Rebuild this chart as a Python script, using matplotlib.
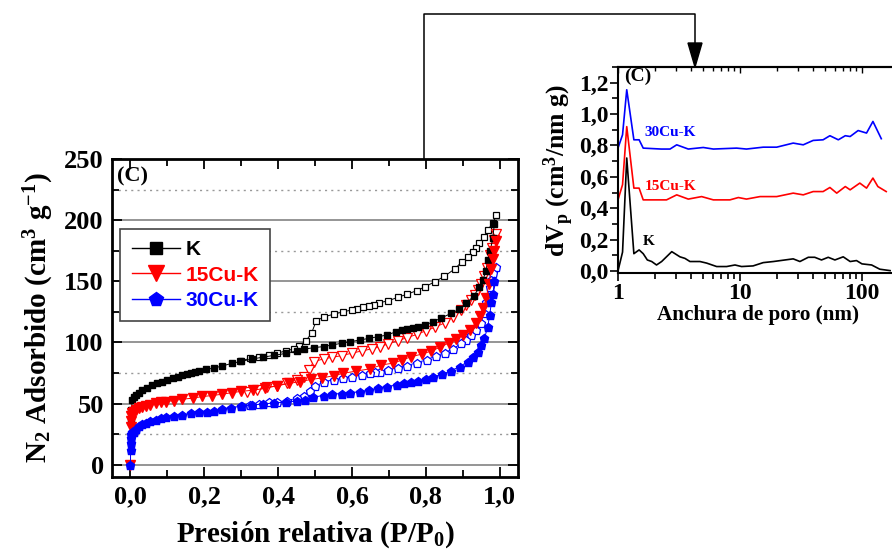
import matplotlib
matplotlib.use("Agg")
import matplotlib.pyplot as plt
from matplotlib.lines import Line2D
from matplotlib.patches import Polygon
from matplotlib.ticker import MultipleLocator, FuncFormatter, LogLocator, NullFormatter

plt.rcParams['font.family'] = ['Liberation Serif', 'DejaVu Serif']
plt.rcParams['font.weight'] = 'bold'
plt.rcParams['axes.labelweight'] = 'bold'
plt.rcParams['mathtext.fontset'] = 'custom'
plt.rcParams['mathtext.rm'] = 'Liberation Serif:bold'
plt.rcParams['mathtext.it'] = 'Liberation Serif:bold'
plt.rcParams['mathtext.bf'] = 'Liberation Serif:bold'

# --- isotherms (P/P0, cm3/g) ---
k_ads_p = [0.0005, 0.002, 0.005, 0.009, 0.014, 0.022, 0.032, 0.045, 0.059, 0.072, 0.086, 0.10,
           0.114, 0.128, 0.14, 0.152, 0.163, 0.175, 0.186, 0.205, 0.226, 0.249, 0.276, 0.30,
           0.33, 0.36, 0.39, 0.42, 0.45, 0.47, 0.497, 0.523, 0.547, 0.572, 0.596, 0.622, 0.647,
           0.671, 0.694, 0.72, 0.735, 0.75, 0.765, 0.78, 0.797, 0.82, 0.842, 0.869, 0.89, 0.91,
           0.93, 0.945, 0.955, 0.962, 0.968, 0.975, 0.981, 0.986]
k_ads_v = [35, 45, 53, 55.5, 57, 59, 61, 63, 65, 66.5, 68, 69.5, 71, 72, 73, 74, 74.8, 76, 77,
           78, 79, 80.8, 83, 84.5, 86.5, 88, 89.5, 91, 93, 94.4, 95.8, 96.6, 98, 99.3, 100.7,
           102, 103.4, 104.7, 106, 108.8, 110, 111, 112, 113, 114, 117, 120, 123.8, 127, 132,
           138, 145, 151, 158, 167, 175, 185, 197]
k_des_p = [0.991, 0.982, 0.968, 0.959, 0.944, 0.937, 0.928, 0.914, 0.898, 0.878, 0.85, 0.824,
           0.799, 0.775, 0.75, 0.725, 0.698, 0.674, 0.659, 0.647, 0.631, 0.613, 0.599, 0.575,
           0.55, 0.524, 0.503, 0.491, 0.475, 0.456, 0.442, 0.42, 0.397, 0.375, 0.348, 0.325, 0.298]
k_des_v = [204, 198, 192, 186, 181, 177.6, 174, 169.5, 166, 160, 154, 149.6, 145.6, 142.3,
           139.5, 137, 134, 132.5, 131, 130, 129, 127, 126.5, 125, 123, 121, 117.5, 108, 101,
           97.4, 94.7, 93, 91.2, 89.8, 88.4, 87, 84.9]

cu15_ads_p = [0.0, 0.0002, 0.0006, 0.001, 0.004, 0.01, 0.016, 0.023, 0.032, 0.041, 0.054, 0.068,
              0.082, 0.095, 0.118, 0.14, 0.168, 0.195, 0.222, 0.249, 0.276, 0.30, 0.333, 0.365,
              0.396, 0.43, 0.46, 0.49, 0.52, 0.55, 0.577, 0.61, 0.65, 0.68, 0.71, 0.735, 0.761,
              0.79, 0.815, 0.838, 0.862, 0.883, 0.90, 0.919, 0.935, 0.946, 0.955, 0.964, 0.971,
              0.978, 0.982, 0.986, 0.99]
cu15_ads_v = [0, 31, 36, 40, 42, 43.5, 45, 46, 47, 48, 49.2, 50.3, 51, 51.7, 52.5, 53.6, 54.4,
              55.8, 56.6, 57.7, 59, 60, 61, 62.5, 64.5, 66.5, 68, 69.8, 71, 72.8, 74.8, 76.5,
              78.5, 81.6, 83, 85.5, 88.4, 90.5, 93, 96, 99.5, 103, 106, 110, 116, 122, 128, 136,
              148, 160, 168, 175, 183]
cu15_des_p = [0.989, 0.985, 0.98, 0.973, 0.966, 0.958, 0.95, 0.941, 0.932, 0.923, 0.91, 0.896,
              0.874, 0.851, 0.826, 0.80, 0.775, 0.75, 0.725, 0.698, 0.676, 0.653, 0.626, 0.599,
              0.572, 0.547, 0.523, 0.496, 0.483, 0.469, 0.451, 0.424, 0.397, 0.37, 0.343, 0.316]
cu15_des_v = [189, 183.7, 177, 171.4, 160.5, 154, 148, 143, 138.8, 134.7, 130.6, 126.5, 121,
              116, 112.5, 109.5, 106.5, 104, 101.5, 98.8, 96.6, 94.7, 93, 91.2, 89.2, 87.9,
              86.5, 84.3, 77.6, 72, 69.4, 66.7, 64.5, 63.4, 61.2, 59.8]

cu30_ads_p = [0.0, 0.0003, 0.0006, 0.001, 0.002, 0.004, 0.01, 0.016, 0.023, 0.032, 0.041, 0.054,
              0.068, 0.082, 0.095, 0.118, 0.14, 0.163, 0.186, 0.208, 0.226, 0.249, 0.271, 0.30,
              0.33, 0.36, 0.39, 0.42, 0.45, 0.473, 0.495, 0.523, 0.547, 0.572, 0.596, 0.622,
              0.647, 0.671, 0.695, 0.721, 0.74, 0.76, 0.78, 0.80, 0.82, 0.845, 0.869, 0.892,
              0.914, 0.928, 0.941, 0.95, 0.959, 0.968, 0.973, 0.978, 0.982, 0.986]
cu30_ads_v = [0, 12, 18, 22, 25, 26.5, 27, 29.5, 31.3, 33, 34, 35.5, 36.7, 38, 38.9, 40, 40.8,
              42.2, 43, 43.5, 44.3, 45.4, 46.8, 47.8, 48.8, 49.7, 50.5, 51.2, 52, 53, 55.3,
              56.6, 57.7, 58.2, 58.8, 59.8, 61.2, 62.6, 63.9, 65.3, 66.5, 67.5, 68.7, 70, 72,
              74, 77, 80.3, 84.3, 88.4, 92.5, 98, 103.4, 113, 122.4, 133, 140, 150]
cu30_des_p = [0.989, 0.982, 0.977, 0.973, 0.964, 0.957, 0.95, 0.937, 0.923, 0.91, 0.896, 0.874,
              0.851, 0.827, 0.802, 0.775, 0.75, 0.725, 0.698, 0.676, 0.662, 0.649, 0.626, 0.599,
              0.575, 0.55, 0.525, 0.50, 0.486, 0.47, 0.451, 0.424, 0.397, 0.375, 0.348, 0.325,
              0.303]
cu30_des_v = [162, 156.5, 151, 145.6, 133.3, 124, 115.7, 110, 106, 102, 99.3, 94.7, 91.7, 89,
              85.7, 83.5, 81, 79.4, 77.6, 76.2, 75.5, 74.8, 73.5, 72, 70.8, 69.4, 68, 64, 60.7,
              56.5, 54.4, 52.5, 51.2, 50.9, 49.8, 49, 48.2]

# --- pore size distribution (nm, cm3/nm g) ---
psd_k_w = [1.0, 1.09, 1.18, 1.35, 1.49, 1.61, 1.74, 1.89, 2.07, 2.28, 2.76, 3.22, 3.54, 3.89,
           4.7, 5.33, 6.44, 7.77, 9.1, 10.3, 12.8, 15.5, 18.8, 27.3, 31, 36.3, 41, 46.6, 52.9,
           60, 70.2, 80, 90.2, 100, 120, 140, 170]
psd_k_v = [0.0, 0.12, 0.72, 0.11, 0.134, 0.11, 0.07, 0.06, 0.038, 0.06, 0.123, 0.09, 0.08,
           0.06, 0.06, 0.05, 0.028, 0.028, 0.038, 0.028, 0.032, 0.053, 0.06, 0.077, 0.06, 0.087,
           0.087, 0.07, 0.087, 0.07, 0.09, 0.06, 0.066, 0.045, 0.038, 0.011, 0.002]
psd_15_w = [1.0, 1.09, 1.18, 1.35, 1.49, 1.61, 1.86, 2.5, 3.03, 3.77, 4.85, 6.05, 8.27, 9.7,
            11.3, 14.6, 20, 27.3, 33, 39.8, 48, 54.6, 62.1, 73, 80, 96, 109, 123, 135, 158]
psd_15_v = [0.453, 0.55, 0.92, 0.528, 0.528, 0.453, 0.453, 0.453, 0.485, 0.458, 0.474, 0.453,
            0.453, 0.468, 0.458, 0.474, 0.474, 0.496, 0.485, 0.506, 0.506, 0.532, 0.496, 0.538,
            0.517, 0.56, 0.528, 0.592, 0.538, 0.506]
psd_30_w = [1.0, 1.09, 1.18, 1.35, 1.49, 1.61, 2.26, 2.67, 3.03, 3.77, 5.0, 6.05, 9.38, 11.3,
            15.5, 20, 27.3, 33, 39.8, 48, 54.6, 64, 73, 80, 93, 109, 123, 144]
psd_30_v = [0.783, 0.868, 1.155, 0.836, 0.836, 0.783, 0.777, 0.777, 0.804, 0.777, 0.787, 0.777,
            0.783, 0.777, 0.789, 0.789, 0.815, 0.804, 0.832, 0.836, 0.862, 0.836, 0.862, 0.857,
            0.895, 0.879, 0.953, 0.843]

fig = plt.figure(figsize=(8.92, 5.58), dpi=100)

# main isotherm axes
ax = fig.add_axes([0.1256, 0.1452, 0.4552, 0.5699])
series = [
    ("K", 'black', 's', 5.0, k_ads_p, k_ads_v, k_des_p, k_des_v),
    ("15Cu-K", 'red', 'v', 6.8, cu15_ads_p, cu15_ads_v, cu15_des_p, cu15_des_v),
    ("30Cu-K", 'blue', 'p', 6.3, cu30_ads_p, cu30_ads_v, cu30_des_p, cu30_des_v),
]
handles = []
for name, col, mk, ms, ap, av, dp, dv in series:
    ax.plot(dp, dv, color=col, lw=0.7, marker=mk, ms=ms, mfc='white', mec=col, mew=0.9, zorder=3)
    ax.plot(ap, av, color=col, lw=0.7, marker=mk, ms=ms, mfc=col, mec=col, zorder=4)
    handles.append(Line2D([], [], color=col, lw=1.0, marker=mk, ms=ms * 1.7, mfc=col, mec=col))

ax.set_xlim(-0.05, 1.05)
ax.set_ylim(-10, 250)
ax.xaxis.set_major_locator(MultipleLocator(0.2))
ax.xaxis.set_minor_locator(MultipleLocator(0.1))
ax.yaxis.set_major_locator(MultipleLocator(50))
ax.yaxis.set_minor_locator(MultipleLocator(25))
ax.xaxis.set_major_formatter(FuncFormatter(lambda x, p: f"{x:.1f}".replace('.', ',')))
ax.grid(True, which='major', axis='y', color='#8c8c8c', lw=1.3, ls='-', zorder=0)
ax.grid(True, which='minor', axis='y', color='#999999', lw=1.0, ls=(0, (1.5, 3)), zorder=0)
ax.set_axisbelow(True)
ax.tick_params(which='both', direction='in', top=True, right=True, labelsize=19, width=1.3, pad=6)
ax.tick_params(which='major', length=7)
ax.tick_params(which='minor', length=5)
for s in ax.spines.values():
    s.set_linewidth(2)
ax.set_xlabel(r"Presión relativa (P/P$_0$)", fontsize=21, labelpad=8)
ax.set_ylabel(r"N$_2$ Adsorbido (cm$^3$ g$^{-1}$)", fontsize=21, labelpad=6)
ax.text(0.012, 0.975, "(C)", transform=ax.transAxes, fontsize=16, va='top', ha='left')

leg = ax.legend(handles, [s[0] for s in series], loc='upper left', bbox_to_anchor=(0.02, 0.78),
                borderaxespad=0, fancybox=False, edgecolor='#444444', framealpha=1,
                prop={'family': 'Liberation Sans', 'weight': 'bold', 'size': 15},
                handlelength=2.3, handletextpad=0.3, labelspacing=0.3, borderpad=0.55)
leg.get_frame().set_linewidth(1.2)
for t, s in zip(leg.get_texts(), series):
    t.set_color(s[1])

# inset pore size distribution
ins = fig.add_axes([0.6928, 0.5108, 0.3147, 0.3691])
ins.plot(psd_k_w, psd_k_v, color='black', lw=1.2)
ins.plot(psd_15_w, psd_15_v, color='red', lw=1.2)
ins.plot(psd_30_w, psd_30_v, color='blue', lw=1.2)
ins.set_xscale('log')
ins.set_xlim(1, 200)
ins.set_ylim(-0.013, 1.30)
ins.yaxis.set_major_locator(MultipleLocator(0.2))
ins.yaxis.set_minor_locator(MultipleLocator(0.1))
ins.yaxis.set_major_formatter(FuncFormatter(lambda y, p: f"{y:.1f}".replace('.', ',')))
ins.xaxis.set_major_locator(LogLocator(base=10))
ins.xaxis.set_minor_locator(LogLocator(base=10, subs=range(2, 10)))
ins.xaxis.set_major_formatter(FuncFormatter(lambda x, p: f"{x:g}"))
ins.xaxis.set_minor_formatter(NullFormatter())
ins.tick_params(which='both', direction='out', labelsize=17, width=1.2, pad=1)
ins.tick_params(which='major', length=6)
ins.tick_params(which='minor', length=4)
ins.spines['right'].set_visible(False)
for s in ['left', 'bottom', 'top']:
    ins.spines[s].set_linewidth(1.5)
top = ins.secondary_xaxis('top')
top.xaxis.set_major_locator(LogLocator(base=10))
top.xaxis.set_minor_locator(LogLocator(base=10, subs=range(2, 10)))
top.xaxis.set_major_formatter(NullFormatter())
top.xaxis.set_minor_formatter(NullFormatter())
top.tick_params(which='both', direction='in', width=1.0)
top.tick_params(which='major', length=4)
top.tick_params(which='minor', length=3)
top.spines['top'].set_linewidth(1.5)
ins.set_xlabel("Anchura de poro (nm)", fontsize=15.2, labelpad=1)
ins.set_ylabel(r"dV$_\mathrm{p}$ (cm$^3$/nm g)", fontsize=18.5, labelpad=2)
ins.text(1.12, 1.295, "(C)", fontsize=14, va='top', ha='left')
ins.text(1.66, 0.885, "30Cu-K", color='blue', fontsize=11, va='center')
ins.text(1.66, 0.54, "15Cu-K", color='red', fontsize=11, va='center')
ins.text(1.6, 0.185, "K", color='black', fontsize=11, va='center')

# connector arrow from main plot to the inset
fig.add_artist(Line2D([424 / 892, 424 / 892, 695 / 892, 695 / 892],
                      [1 - 159 / 558, 1 - 14 / 558, 1 - 14 / 558, 1 - 45 / 558],
                      transform=fig.transFigure, color='black', lw=1.1))
fig.add_artist(Polygon([[688 / 892, 1 - 43 / 558], [702 / 892, 1 - 43 / 558], [695 / 892, 1 - 67 / 558]],
                       closed=True, transform=fig.transFigure, color='black'))

fig.savefig("out.png", dpi=100)
